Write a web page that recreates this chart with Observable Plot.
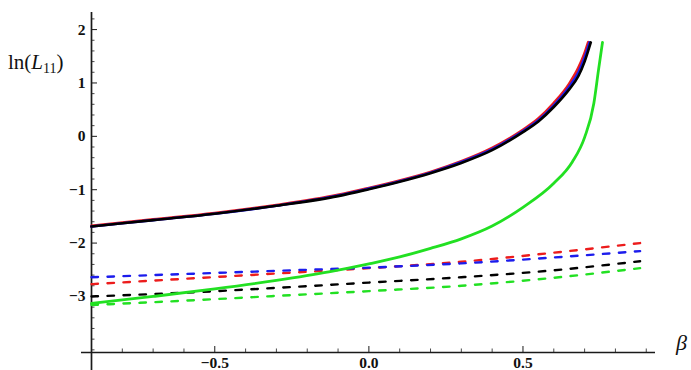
<!DOCTYPE html>
<html><head><meta charset="utf-8">
<script src="https://cdn.jsdelivr.net/npm/d3@7"></script>
<script src="https://cdn.jsdelivr.net/npm/@observablehq/plot@0.6"></script>
<style>body{margin:0;background:#fff}#chart{width:691px;height:370px}</style>
</head><body><div id="chart"></div>
<script>
// ---- data ----
const solidBlackX = [-0.9, -0.7, -0.5, -0.3, -0.1, 0.0, 0.1, 0.2, 0.3, 0.4, 0.5, 0.55, 0.6, 0.65, 0.68, 0.70, 0.72];
const solidBlackY = [-1.69, -1.57, -1.45, -1.30, -1.12, -0.99, -0.85, -0.69, -0.50, -0.26, 0.08, 0.28, 0.55, 0.88, 1.13, 1.40, 1.76];
const solidBlueX  = [-0.9, -0.7, -0.5, -0.3, -0.1, 0.0, 0.1, 0.2, 0.3, 0.4, 0.5, 0.55, 0.6, 0.65, 0.68, 0.70, 0.716];
const solidBlueY  = [-1.69, -1.57, -1.45, -1.30, -1.11, -0.98, -0.84, -0.68, -0.48, -0.24, 0.10, 0.30, 0.58, 0.93, 1.20, 1.48, 1.76];
const solidRedX   = [-0.9, -0.7, -0.5, -0.3, -0.1, 0.0, 0.1, 0.2, 0.3, 0.4, 0.5, 0.55, 0.6, 0.65, 0.68, 0.70, 0.712];
const solidRedY   = [-1.68, -1.56, -1.44, -1.29, -1.10, -0.97, -0.83, -0.67, -0.47, -0.22, 0.12, 0.33, 0.62, 0.98, 1.28, 1.55, 1.76];
const solidGreenX = [-0.9, -0.7, -0.5, -0.3, -0.13, 0.0, 0.1, 0.2, 0.3, 0.4, 0.5, 0.6, 0.66, 0.70, 0.73, 0.745, 0.758];
const solidGreenY = [-3.13, -3.00, -2.86, -2.70, -2.54, -2.39, -2.26, -2.10, -1.92, -1.68, -1.33, -0.88, -0.48, -0.02, 0.62, 1.24, 1.76];

const dashX      = [-0.9, -0.6, -0.3, 0.0, 0.3, 0.6, 0.88];
const dashRedY   = [-2.77, -2.67, -2.57, -2.47, -2.35, -2.18, -2.00];
const dashBlueY  = [-2.64, -2.58, -2.52, -2.46, -2.38, -2.27, -2.15];
const dashBlackY = [-3.00, -2.93, -2.84, -2.74, -2.64, -2.51, -2.34];
const dashGreenY = [-3.16, -3.08, -2.99, -2.90, -2.80, -2.65, -2.47];

const xMajorTicks  = [-0.5, 0.0, 0.5];
const xMajorLabels = ["\u22120.5", "0.0", "0.5"];
const yMajorTicks  = [-3, -2, -1, 0, 1, 2];
const yMajorLabels = ["\u22123", "\u22122", "\u22121", "0", "1", "2"];

// ---- layout ----
const W = 691, H = 370;
const mL = 91, mR = 36, mT = 12, mB = 18;
const xDom = [-0.9, 0.93], yDom = [-4.05, 2.32];
const kx = (W - mL - mR) / (xDom[1] - xDom[0]);   // px per x unit
const ky = (H - mT - mB) / (yDom[1] - yDom[0]);   // px per y unit
const xMinor = d3.range(-9, 10).map(i => i / 10).filter(v => !xMajorTicks.some(t => Math.abs(t - v) < 1e-9));
const yMinor = d3.range(-20, 12).map(i => i / 5).filter(v => !yMajorTicks.some(t => Math.abs(t - v) < 1e-9));

const pts = (xs, ys) => xs.map((x, i) => ({x, y: ys[i]}));
const axisColor = "#1a1a1a";
const RED = "#ec1c1c", BLUE = "#1c1cec", BLACK = "#000000", GREEN = "#22e022";
const font = "'Liberation Serif', 'Times New Roman', serif";
const dash = "6.5,9.5";

const plot = Plot.plot({
  width: W, height: H,
  marginLeft: mL, marginRight: mR, marginTop: mT, marginBottom: mB,
  x: {domain: xDom, axis: null},
  y: {domain: yDom, axis: null},
  style: {background: "white", fontFamily: font},
  marks: [
    // axes lines
    Plot.ruleY([yDom[0]], {x1: xDom[0] - 10 / kx, x2: xDom[1], stroke: axisColor, strokeWidth: 1.7}),
    Plot.ruleX([xDom[0]], {y1: yDom[0] - mB / ky, y2: yDom[1], stroke: axisColor, strokeWidth: 1.7}),
    // ticks
    Plot.ruleX(xMajorTicks, {x: d => d, y1: yDom[0], y2: yDom[0] + 6 / ky, stroke: axisColor, strokeWidth: 1}),
    Plot.ruleX(xMinor, {x: d => d, y1: yDom[0], y2: yDom[0] + 3.5 / ky, stroke: axisColor, strokeWidth: 0.8}),
    Plot.ruleY(yMajorTicks, {y: d => d, x1: xDom[0], x2: xDom[0] + 6 / kx, stroke: axisColor, strokeWidth: 1}),
    Plot.ruleY(yMinor, {y: d => d, x1: xDom[0], x2: xDom[0] + 3.5 / kx, stroke: axisColor, strokeWidth: 0.8}),
    // tick labels
    Plot.text(xMajorTicks, {x: d => d, y: yDom[0], text: (d, i) => xMajorLabels[i], dy: 15, lineAnchor: "bottom",
      fontSize: 15.5, fontWeight: "bold", fill: "#111"}),
    Plot.text(yMajorTicks, {x: xDom[0], y: d => d, text: (d, i) => yMajorLabels[i], dx: -6, textAnchor: "end",
      lineAnchor: "middle", fontSize: 15.5, fontWeight: "bold", fill: "#111"}),
    // dashed series
    Plot.line(pts(dashX, dashGreenY), {x: "x", y: "y", stroke: GREEN, strokeWidth: 2.4, strokeDasharray: dash, curve: "monotone-x"}),
    Plot.line(pts(dashX, dashBlackY), {x: "x", y: "y", stroke: BLACK, strokeWidth: 2.4, strokeDasharray: dash, curve: "monotone-x"}),
    Plot.line(pts(dashX, dashRedY),   {x: "x", y: "y", stroke: RED,   strokeWidth: 2.4, strokeDasharray: dash, curve: "monotone-x"}),
    Plot.line(pts(dashX, dashBlueY),  {x: "x", y: "y", stroke: BLUE,  strokeWidth: 2.4, strokeDasharray: dash, curve: "monotone-x"}),
    // solid series
    Plot.line(pts(solidGreenX, solidGreenY), {x: "x", y: "y", stroke: GREEN, strokeWidth: 2.8, curve: "monotone-x"}),
    Plot.line(pts(solidRedX, solidRedY),     {x: "x", y: "y", stroke: RED,   strokeWidth: 3, curve: "monotone-x"}),
    Plot.line(pts(solidBlueX, solidBlueY),   {x: "x", y: "y", stroke: BLUE,  strokeWidth: 2.6, curve: "monotone-x"}),
    Plot.line(pts(solidBlackX, solidBlackY), {x: "x", y: "y", stroke: BLACK, strokeWidth: 2.6, curve: "monotone-x"})
  ]
});

// axis titles (rich text with subscript / italics)
const svg = d3.select(plot);
const yl = svg.append("text").attr("x", 8).attr("y", 69).attr("text-anchor", "start")
  .attr("font-family", font).attr("font-size", 21).attr("fill", "#111");
yl.append("tspan").text("ln(");
yl.append("tspan").attr("font-style", "italic").text("L");
yl.append("tspan").attr("font-size", 14).attr("dy", 4).text("11");
yl.append("tspan").attr("font-size", 21).attr("dy", -4).text(")");
svg.append("text").attr("x", 676).attr("y", 350).attr("text-anchor", "start")
  .attr("font-family", font).attr("font-size", 22).attr("font-style", "italic").attr("fill", "#111").text("\u03b2");

document.getElementById("chart").appendChild(plot);
</script></body></html>
